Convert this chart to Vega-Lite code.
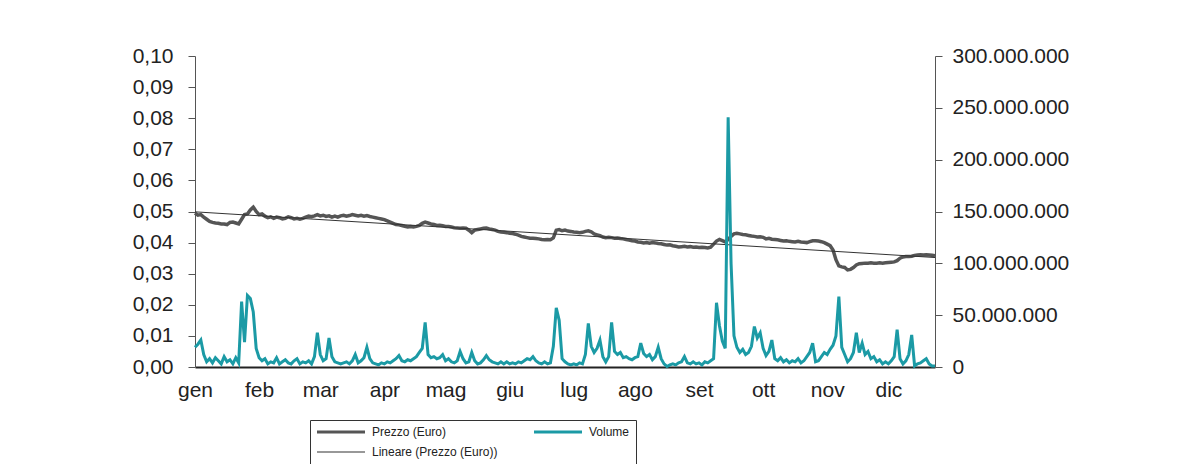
{
  "$schema": "https://vega.github.io/schema/vega-lite/v6.json",
  "width": 740,
  "height": 311,
  "autosize": "none",
  "padding": {"left": 195, "top": 56, "right": 254, "bottom": 97},
  "background": "white",
  "config": {
    "view": {"stroke": null},
    "font": "Liberation Sans",
    "locale": {"number": {"decimal": ",", "thousands": ".", "grouping": [3], "currency": ["€", ""]}},
    "axis": {"labelFont": "Liberation Sans", "labelColor": "#222222", "labelFontSize": 21, "grid": false, "domainColor": "#555555", "tickColor": "#555555", "labelOverlap": false}
  },
  "data": {"values": [
{"t":0,"p":0.0495,"v":19e6},{"t":1,"p":0.0488,"v":22e6},{"t":2,"p":0.0490,"v":26e6},{"t":3,"p":0.0482,"v":12e6},{"t":4,"p":0.0475,"v":5e6},
{"t":5,"p":0.0468,"v":8e6},{"t":6,"p":0.0465,"v":4e6},{"t":7,"p":0.0463,"v":9e6},{"t":8,"p":0.0462,"v":6e6},{"t":9,"p":0.0460,"v":3e6},
{"t":10,"p":0.0460,"v":10e6},{"t":11,"p":0.0458,"v":5e6},{"t":12,"p":0.0465,"v":7e6},{"t":13,"p":0.0466,"v":3e6},{"t":14,"p":0.0463,"v":9e6},
{"t":15,"p":0.0460,"v":4e6},{"t":16,"p":0.0475,"v":63e6},{"t":17,"p":0.0490,"v":24e6},{"t":18,"p":0.0492,"v":69e6},{"t":19,"p":0.0505,"v":66e6},
{"t":20,"p":0.0514,"v":53e6},{"t":21,"p":0.0500,"v":18e6},{"t":22,"p":0.0490,"v":9e6},{"t":23,"p":0.0492,"v":6e6},{"t":24,"p":0.0485,"v":8e6},
{"t":25,"p":0.0480,"v":3e6},{"t":26,"p":0.0483,"v":5e6},{"t":27,"p":0.0478,"v":4e6},{"t":28,"p":0.0482,"v":9e6},{"t":29,"p":0.0480,"v":3e6},
{"t":30,"p":0.0476,"v":5e6},{"t":31,"p":0.0478,"v":7e6},{"t":32,"p":0.0483,"v":4e6},{"t":33,"p":0.0480,"v":3e6},{"t":34,"p":0.0476,"v":6e6},
{"t":35,"p":0.0478,"v":8e6},{"t":36,"p":0.0475,"v":3e6},{"t":37,"p":0.0478,"v":5e6},{"t":38,"p":0.0482,"v":4e6},{"t":39,"p":0.0485,"v":6e6},
{"t":40,"p":0.0483,"v":3e6},{"t":41,"p":0.0486,"v":10e6},{"t":42,"p":0.0490,"v":33e6},{"t":43,"p":0.0486,"v":12e6},{"t":44,"p":0.0488,"v":6e6},
{"t":45,"p":0.0484,"v":8e6},{"t":46,"p":0.0486,"v":28e6},{"t":47,"p":0.0482,"v":10e6},{"t":48,"p":0.0485,"v":5e6},{"t":49,"p":0.0482,"v":4e6},
{"t":50,"p":0.0486,"v":3e6},{"t":51,"p":0.0488,"v":4e6},{"t":52,"p":0.0485,"v":5e6},{"t":53,"p":0.0487,"v":3e6},{"t":54,"p":0.0490,"v":6e6},
{"t":55,"p":0.0488,"v":12e6},{"t":56,"p":0.0486,"v":4e6},{"t":57,"p":0.0488,"v":6e6},{"t":58,"p":0.0485,"v":9e6},{"t":59,"p":0.0487,"v":19e6},
{"t":60,"p":0.0484,"v":8e6},{"t":61,"p":0.0482,"v":4e6},{"t":62,"p":0.0480,"v":3e6},{"t":63,"p":0.0478,"v":2e6},{"t":64,"p":0.0476,"v":4e6},
{"t":65,"p":0.0474,"v":3e6},{"t":66,"p":0.0470,"v":5e6},{"t":67,"p":0.0466,"v":4e6},{"t":68,"p":0.0462,"v":6e6},{"t":69,"p":0.0458,"v":8e6},
{"t":70,"p":0.0457,"v":11e6},{"t":71,"p":0.0455,"v":6e6},{"t":72,"p":0.0452,"v":5e6},{"t":73,"p":0.0450,"v":7e6},{"t":74,"p":0.0452,"v":6e6},
{"t":75,"p":0.0450,"v":8e6},{"t":76,"p":0.0452,"v":10e6},{"t":77,"p":0.0455,"v":14e6},{"t":78,"p":0.0462,"v":18e6},{"t":79,"p":0.0466,"v":43e6},
{"t":80,"p":0.0463,"v":12e6},{"t":81,"p":0.0460,"v":9e6},{"t":82,"p":0.0458,"v":10e6},{"t":83,"p":0.0455,"v":8e6},{"t":84,"p":0.0456,"v":9e6},
{"t":85,"p":0.0454,"v":12e6},{"t":86,"p":0.0452,"v":6e6},{"t":87,"p":0.0452,"v":8e6},{"t":88,"p":0.0450,"v":5e6},{"t":89,"p":0.0448,"v":4e6},
{"t":90,"p":0.0447,"v":6e6},{"t":91,"p":0.0446,"v":15e6},{"t":92,"p":0.0447,"v":8e6},{"t":93,"p":0.0446,"v":4e6},{"t":94,"p":0.0440,"v":5e6},
{"t":95,"p":0.0432,"v":14e6},{"t":96,"p":0.0440,"v":6e6},{"t":97,"p":0.0442,"v":3e6},{"t":98,"p":0.0444,"v":4e6},{"t":99,"p":0.0446,"v":7e6},
{"t":100,"p":0.0447,"v":11e6},{"t":101,"p":0.0444,"v":7e6},{"t":102,"p":0.0442,"v":5e6},{"t":103,"p":0.0440,"v":4e6},{"t":104,"p":0.0436,"v":3e6},
{"t":105,"p":0.0434,"v":5e6},{"t":106,"p":0.0433,"v":3e6},{"t":107,"p":0.0432,"v":5e6},{"t":108,"p":0.0430,"v":3e6},{"t":109,"p":0.0429,"v":4e6},
{"t":110,"p":0.0427,"v":3e6},{"t":111,"p":0.0424,"v":5e6},{"t":112,"p":0.0420,"v":4e6},{"t":113,"p":0.0418,"v":6e6},{"t":114,"p":0.0416,"v":8e6},
{"t":115,"p":0.0414,"v":7e6},{"t":116,"p":0.0414,"v":10e6},{"t":117,"p":0.0413,"v":6e6},{"t":118,"p":0.0412,"v":4e6},{"t":119,"p":0.0410,"v":3e6},
{"t":120,"p":0.0409,"v":5e6},{"t":121,"p":0.0410,"v":3e6},{"t":122,"p":0.0409,"v":4e6},{"t":123,"p":0.0415,"v":20e6},{"t":124,"p":0.0440,"v":57e6},
{"t":125,"p":0.0442,"v":45e6},{"t":126,"p":0.0438,"v":8e6},{"t":127,"p":0.0440,"v":5e6},{"t":128,"p":0.0437,"v":3e6},{"t":129,"p":0.0436,"v":2e6},
{"t":130,"p":0.0434,"v":3e6},{"t":131,"p":0.0433,"v":2e6},{"t":132,"p":0.0432,"v":4e6},{"t":133,"p":0.0433,"v":3e6},{"t":134,"p":0.0436,"v":12e6},
{"t":135,"p":0.0438,"v":42e6},{"t":136,"p":0.0435,"v":20e6},{"t":137,"p":0.0428,"v":14e6},{"t":138,"p":0.0425,"v":18e6},{"t":139,"p":0.0422,"v":26e6},
{"t":140,"p":0.0418,"v":10e6},{"t":141,"p":0.0416,"v":5e6},{"t":142,"p":0.0417,"v":10e6},{"t":143,"p":0.0416,"v":43e6},{"t":144,"p":0.0414,"v":15e6},
{"t":145,"p":0.0415,"v":12e6},{"t":146,"p":0.0413,"v":14e6},{"t":147,"p":0.0412,"v":9e6},{"t":148,"p":0.0410,"v":10e6},{"t":149,"p":0.0408,"v":8e6},
{"t":150,"p":0.0406,"v":7e6},{"t":151,"p":0.0405,"v":9e6},{"t":152,"p":0.0402,"v":10e6},{"t":153,"p":0.0401,"v":23e6},{"t":154,"p":0.0399,"v":13e6},
{"t":155,"p":0.0400,"v":10e6},{"t":156,"p":0.0398,"v":12e6},{"t":157,"p":0.0400,"v":7e6},{"t":158,"p":0.0399,"v":10e6},{"t":159,"p":0.0397,"v":19e6},
{"t":160,"p":0.0396,"v":8e6},{"t":161,"p":0.0394,"v":3e6},{"t":162,"p":0.0392,"v":0.5e6},{"t":163,"p":0.0393,"v":2e6},{"t":164,"p":0.0390,"v":3e6},
{"t":165,"p":0.0388,"v":2e6},{"t":166,"p":0.0386,"v":4e6},{"t":167,"p":0.0387,"v":5e6},{"t":168,"p":0.0388,"v":10e6},{"t":169,"p":0.0386,"v":4e6},
{"t":170,"p":0.0387,"v":3e6},{"t":171,"p":0.0385,"v":5e6},{"t":172,"p":0.0386,"v":3e6},{"t":173,"p":0.0384,"v":4e6},{"t":174,"p":0.0385,"v":2e6},
{"t":175,"p":0.0384,"v":5e6},{"t":176,"p":0.0383,"v":4e6},{"t":177,"p":0.0385,"v":6e6},{"t":178,"p":0.0395,"v":8e6},{"t":179,"p":0.0405,"v":62e6},
{"t":180,"p":0.0410,"v":40e6},{"t":181,"p":0.0406,"v":25e6},{"t":182,"p":0.0402,"v":18e6},{"t":183,"p":0.0410,"v":241e6},{"t":184,"p":0.0420,"v":100e6},
{"t":185,"p":0.0428,"v":30e6},{"t":186,"p":0.0430,"v":19e6},{"t":187,"p":0.0428,"v":14e6},{"t":188,"p":0.0426,"v":17e6},{"t":189,"p":0.0425,"v":12e6},
{"t":190,"p":0.0423,"v":14e6},{"t":191,"p":0.0421,"v":20e6},{"t":192,"p":0.0420,"v":39e6},{"t":193,"p":0.0418,"v":28e6},{"t":194,"p":0.0419,"v":33e6},
{"t":195,"p":0.0417,"v":18e6},{"t":196,"p":0.0412,"v":11e6},{"t":197,"p":0.0414,"v":15e6},{"t":198,"p":0.0411,"v":26e6},{"t":199,"p":0.0410,"v":8e6},
{"t":200,"p":0.0409,"v":6e6},{"t":201,"p":0.0407,"v":9e6},{"t":202,"p":0.0405,"v":5e6},{"t":203,"p":0.0406,"v":7e6},{"t":204,"p":0.0404,"v":4e6},
{"t":205,"p":0.0403,"v":6e6},{"t":206,"p":0.0402,"v":5e6},{"t":207,"p":0.0404,"v":8e6},{"t":208,"p":0.0402,"v":4e6},{"t":209,"p":0.0401,"v":6e6},
{"t":210,"p":0.0400,"v":10e6},{"t":211,"p":0.0403,"v":14e6},{"t":212,"p":0.0406,"v":23e6},{"t":213,"p":0.0406,"v":5e6},{"t":214,"p":0.0405,"v":6e6},
{"t":215,"p":0.0403,"v":10e6},{"t":216,"p":0.0400,"v":14e6},{"t":217,"p":0.0395,"v":12e6},{"t":218,"p":0.0390,"v":17e6},{"t":219,"p":0.0376,"v":21e6},
{"t":220,"p":0.0345,"v":30e6},{"t":221,"p":0.0325,"v":68e6},{"t":222,"p":0.0322,"v":19e6},{"t":223,"p":0.0320,"v":12e6},{"t":224,"p":0.0312,"v":5e6},
{"t":225,"p":0.0314,"v":8e6},{"t":226,"p":0.0320,"v":14e6},{"t":227,"p":0.0328,"v":33e6},{"t":228,"p":0.0332,"v":14e6},{"t":229,"p":0.0333,"v":23e6},
{"t":230,"p":0.0334,"v":12e6},{"t":231,"p":0.0334,"v":15e6},{"t":232,"p":0.0335,"v":8e6},{"t":233,"p":0.0334,"v":10e6},{"t":234,"p":0.0334,"v":5e6},
{"t":235,"p":0.0335,"v":7e6},{"t":236,"p":0.0334,"v":3e6},{"t":237,"p":0.0335,"v":5e6},{"t":238,"p":0.0336,"v":3e6},{"t":239,"p":0.0337,"v":6e6},
{"t":240,"p":0.0338,"v":10e6},{"t":241,"p":0.0342,"v":36e6},{"t":242,"p":0.0350,"v":8e6},{"t":243,"p":0.0354,"v":3e6},{"t":244,"p":0.0355,"v":6e6},
{"t":245,"p":0.0355,"v":12e6},{"t":246,"p":0.0356,"v":31e6},{"t":247,"p":0.0359,"v":1e6},{"t":248,"p":0.0360,"v":3e6},{"t":249,"p":0.0361,"v":4e6},
{"t":250,"p":0.0360,"v":6e6},{"t":251,"p":0.0361,"v":8e6},{"t":252,"p":0.0360,"v":3e6},{"t":253,"p":0.0359,"v":1e6},{"t":254,"p":0.0358,"v":1e6}
  ]},
  "encoding": {
    "x": {
      "field": "t", "type": "quantitative",
      "scale": {"domain": [0, 254], "nice": false, "zero": false},
      "axis": {
        "title": null,
        "values": [0, 22, 43, 65, 86, 108, 130, 151, 173, 195, 217, 238],
        "labelExpr": "['gen','feb','mar','apr','mag','giu','lug','ago','set','ott','nov','dic'][indexof([0,22,43,65,86,108,130,151,173,195,217,238], datum.value)]",
        "ticks": false,
        "labelPadding": 12,
        "domainColor": "#222222",
        "domainWidth": 2,
        "labelFlush": false
      }
    }
  },
  "layer": [
    {
      "encoding": {
        "y": {
          "field": "p", "type": "quantitative",
          "scale": {"domain": [0, 0.1], "nice": false},
          "axis": {"title": null, "orient": "left", "format": ".2f", "values": [0, 0.01, 0.02, 0.03, 0.04, 0.05, 0.06, 0.07, 0.08, 0.09, 0.1], "tickSize": 7, "labelPadding": 15, "labelOverlap": false}
        }
      },
      "layer": [
        {
          "mark": {"type": "line", "strokeWidth": 3.5, "interpolate": "linear"},
          "encoding": {
            "color": {
              "datum": "Prezzo (Euro)",
              "type": "nominal",
              "scale": {"domain": ["Prezzo (Euro)", "Volume", "Lineare (Prezzo (Euro))"], "range": ["#555555", "#1b9aa5", "#333333"]},
              "legend": {
                "title": null,
                "orient": "none",
                "legendX": 115,
                "legendY": 364,
                "columns": 2,
                "direction": "horizontal",
                "gridAlign": "all",
                "columnPadding": 30,
                "rowPadding": 8,
                "padding": 6,
                "strokeColor": "#333333",
                "symbolType": "M-1,0H8.6",
                "symbolSize": 100,
                "symbolStrokeWidth": 3,
                "labelFontSize": 12,
                "labelColor": "#222222",
                "labelOffset": 44,
                "encode": {"symbols": {"update": {"strokeWidth": {"signal": "datum.value === 'Lineare (Prezzo (Euro))' ? 1.2 : 3"}}}}
              }
            }
          }
        },
        {
          "transform": [{"regression": "p", "on": "t"}],
          "mark": {"type": "line", "strokeWidth": 1},
          "encoding": {
            "color": {"datum": "Lineare (Prezzo (Euro))", "type": "nominal"}
          }
        }
      ]
    },
    {
      "mark": {"type": "line", "strokeWidth": 3},
      "encoding": {
        "y": {
          "field": "v", "type": "quantitative",
          "scale": {"domain": [0, 300000000], "nice": false},
          "axis": {"title": null, "orient": "right", "format": ",.0f", "values": [0, 50000000, 100000000, 150000000, 200000000, 250000000, 300000000], "tickSize": 7, "labelPadding": 10}
        },
        "color": {"datum": "Volume", "type": "nominal"}
      }
    }
  ],
  "resolve": {"scale": {"y": "independent"}}
}
